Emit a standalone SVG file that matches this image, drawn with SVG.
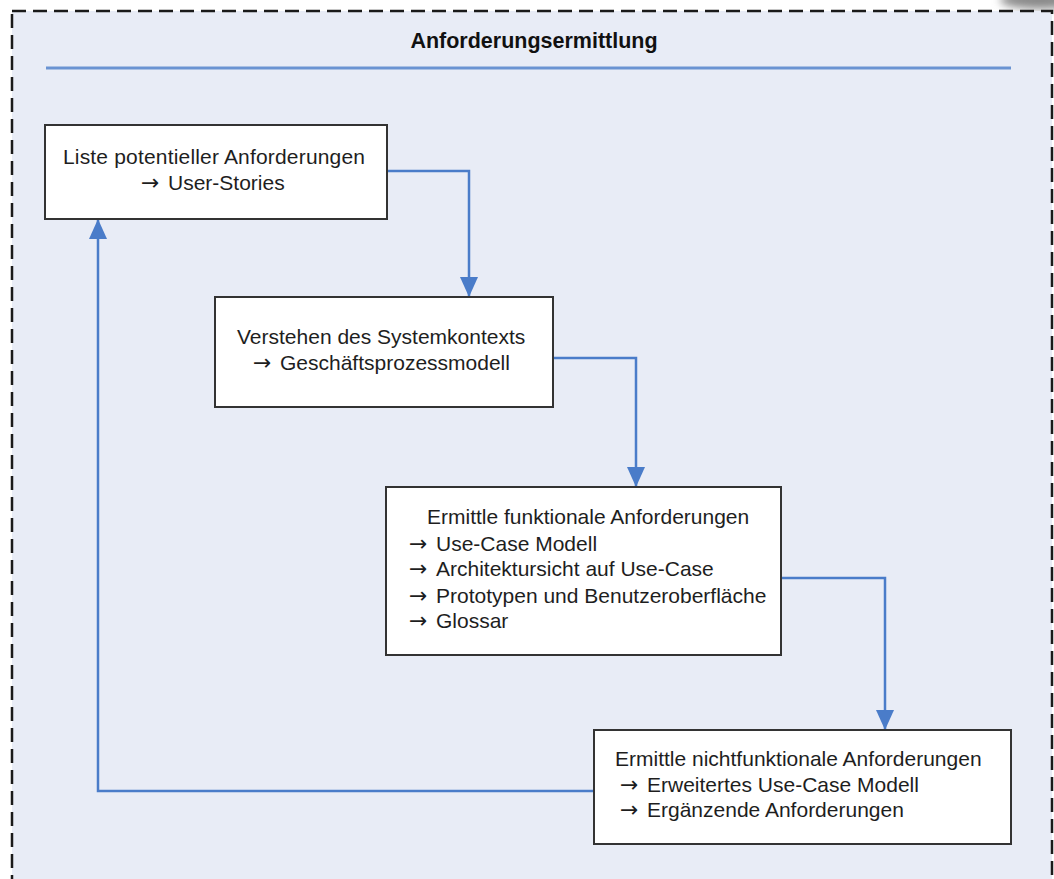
<svg xmlns="http://www.w3.org/2000/svg" width="1054" height="879" viewBox="0 0 1054 879">
  <defs>
    <style>
      .frame { fill: #e8ecf6; stroke: #1a1a1a; stroke-width: 2.5; stroke-dasharray: 14 7; }
      .node rect { fill: #ffffff; stroke: #333333; stroke-width: 2; }
      .node text { font-family: "Liberation Sans", Arial, sans-serif; font-size: 21px; fill: #1e1e1e; }
      .node text.arr { font-family: "DejaVu Sans", sans-serif; font-size: 22px; }
      .title { font-family: "Liberation Sans", Arial, sans-serif; font-size: 21.5px; font-weight: bold; fill: #111111; }
      .conn { fill: none; stroke: #4a7cc9; stroke-width: 2.5; }
    </style>
    <marker id="head" viewBox="0 0 20 18" refX="20" refY="9" markerWidth="20" markerHeight="18" markerUnits="userSpaceOnUse" orient="auto">
      <path d="M0,0 L20,9 L0,18 z" fill="#4a7cc9"/>
    </marker>
    <filter id="soft" x="-50%" y="-50%" width="200%" height="200%">
      <feGaussianBlur stdDeviation="4"/>
    </filter>
  </defs>

  <rect x="0" y="0" width="1054" height="879" fill="#ffffff"/>
  <!-- shadow of a shape above the frame -->
  <ellipse cx="1040" cy="0" rx="40" ry="9" fill="#8a8a8a" filter="url(#soft)"/>

  <!-- swimlane frame -->
  <rect class="frame" x="12" y="11" width="1040" height="890"/>
  <text class="title" x="534" y="48" text-anchor="middle">Anforderungsermittlung</text>
  <line x1="46" y1="68" x2="1011" y2="68" stroke="#6a93d2" stroke-width="3"/>

  <!-- connectors -->
  <g id="connectors">
    <path class="conn" d="M387,171 H469 V297" marker-end="url(#head)"/>
    <path class="conn" d="M553,358 H636 V487" marker-end="url(#head)"/>
    <path class="conn" d="M781,578 H885 V730" marker-end="url(#head)"/>
    <path class="conn" d="M594,791 H98 V219" marker-end="url(#head)"/>
  </g>

  <g id="node-user-stories" class="node">
    <rect x="45" y="125" width="342" height="94"/>
    <text x="63" y="164" textLength="302">Liste potentieller Anforderungen</text>
    <text class="arr" x="141" y="190">→</text>
    <text x="168" y="190">User-Stories</text>
  </g>

  <g id="node-systemkontext" class="node">
    <rect x="215" y="297" width="338" height="110"/>
    <text x="237" y="344">Verstehen des Systemkontexts</text>
    <text class="arr" x="253" y="370">→</text>
    <text x="280" y="370">Geschäftsprozessmodell</text>
  </g>

  <g id="node-funktional" class="node">
    <rect x="386" y="487" width="395" height="168"/>
    <text x="427" y="524">Ermittle funktionale Anforderungen</text>
    <text class="arr" x="409" y="551">→</text>
    <text x="436" y="551">Use-Case Modell</text>
    <text class="arr" x="409" y="576">→</text>
    <text x="436" y="576">Architektursicht auf Use-Case</text>
    <text class="arr" x="409" y="603">→</text>
    <text x="436" y="603">Prototypen und Benutzeroberfläche</text>
    <text class="arr" x="409" y="628">→</text>
    <text x="436" y="628">Glossar</text>
  </g>

  <g id="node-nichtfunktional" class="node">
    <rect x="594" y="730" width="417" height="114"/>
    <text x="615" y="766">Ermittle nichtfunktionale Anforderungen</text>
    <text class="arr" x="620" y="792">→</text>
    <text x="647" y="792">Erweitertes Use-Case Modell</text>
    <text class="arr" x="620" y="817">→</text>
    <text x="647" y="817">Ergänzende Anforderungen</text>
  </g>
</svg>
